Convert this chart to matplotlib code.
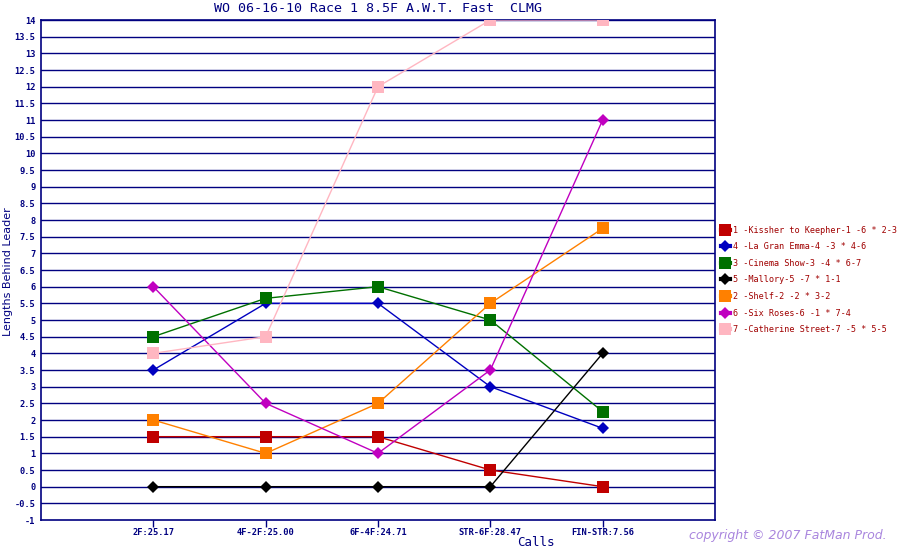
import matplotlib
matplotlib.use('Agg')
import matplotlib.pyplot as plt
import numpy as np

calls = ['2F:25.17', '4F-2F:25.00', '6F-4F:24.71', 'STR-6F:28.47', 'FIN-STR:7.56']

horses = [
    '1 -Kissher to Keepher-1 -6 * 2-3',
    '4 -La Gran Emma-4 -3 * 4-6',
    '3 -Cinema Show-3 -4 * 6-7',
    '5 -Mallory-5 -7 * 1-1',
    '2 -Shelf-2 -2 * 3-2',
    '6 -Six Roses-6 -1 * 7-4',
    '7 -Catherine Street-7 -5 * 5-5',
]

kissher = [1.5, 1.5, 1.5, 0.5, 0]
la_gran_emma = [3.5, 5.5, 5.5, 3, 1.75]
cinema_show = [4.5, 5.65, 6, 5, 2.25]
mallory = [0, 0, 0, 0, 4]
shelf = [2, 1, 2.5, 5.5, 7.75]
six_roses = [6, 2.5, 1, 3.5, 11]
catherine = [4, 4.5, 12, 14, 14]

series = [kissher, la_gran_emma, cinema_show, mallory, shelf, six_roses, catherine]
colors = ['#c00000', '#0000c0', '#007000', '#000000', '#ff8000', '#c000c0', '#ffb6c1']
markers = ['s', 'D', 's', 'D', 's', 'D', 's']

navy = '#000080'
mono = 'DejaVu Sans Mono'

fig = plt.figure(figsize=(9, 5.5), dpi=100)
ax = fig.add_axes([41 / 900, 30 / 550, 674 / 900, 500 / 550])

x = np.arange(1, len(calls) + 1)
for yv in np.arange(-0.5, 14.01, 0.5):
    ax.axhline(yv, color=navy, lw=1.0, zorder=1)

for name, vals, c, m in zip(horses, series, colors, markers):
    ms = 8 if m == 's' else 6.5
    ax.plot(x, vals, color=c, lw=1, marker=m, markersize=ms,
            markeredgewidth=0, label=name, zorder=3)

ax.set_xlim(0, 6)
ax.set_ylim(-1, 14)
ax.set_xticks(x)
ax.set_xticklabels(calls, fontsize=6.3, family=mono, fontweight='bold', color=navy)
ax.set_yticks(np.arange(-1, 14.01, 0.5))
ax.set_yticklabels(['%g' % v for v in np.arange(-1, 14.01, 0.5)],
                   fontsize=6.2, family=mono, fontweight='bold', color=navy)
ax.tick_params(axis='y', length=0, pad=4)
ax.tick_params(axis='x', length=5, color=navy, width=1, pad=1)
for s in ax.spines.values():
    s.set_color(navy)
    s.set_linewidth(1.2)

fig.text(378 / 900, 1 - 9 / 550, 'WO 06-16-10 Race 1 8.5F A.W.T. Fast  CLMG',
         ha='center', va='center', fontsize=9.6, family=mono, color=navy)
fig.text(8 / 900, 1 - 272 / 550, 'Lengths Behind Leader', rotation=90,
         ha='center', va='center', fontsize=8, color=navy)
fig.text(536 / 900, 1 - 543 / 550, 'Calls', ha='center', va='center',
         fontsize=9, family=mono, color=navy)

leg = ax.legend(loc='upper left', bbox_to_anchor=(1.0, 0.6), frameon=False,
                prop={'family': mono, 'size': 6.1},
                handlelength=1.1, handletextpad=0.35, labelspacing=0.9,
                borderaxespad=0.25)
for t in leg.get_texts():
    t.set_color('#a00000')
for h in leg.legend_handles:
    h.set_linewidth(3)

fig.text(788 / 900, 1 - 536 / 550, 'copyright \u00a9 2007 FatMan Prod.',
         ha='center', va='center', fontsize=9, style='italic',
         color='#9a70d8', alpha=0.85)

fig.savefig('out.png', dpi=100)
